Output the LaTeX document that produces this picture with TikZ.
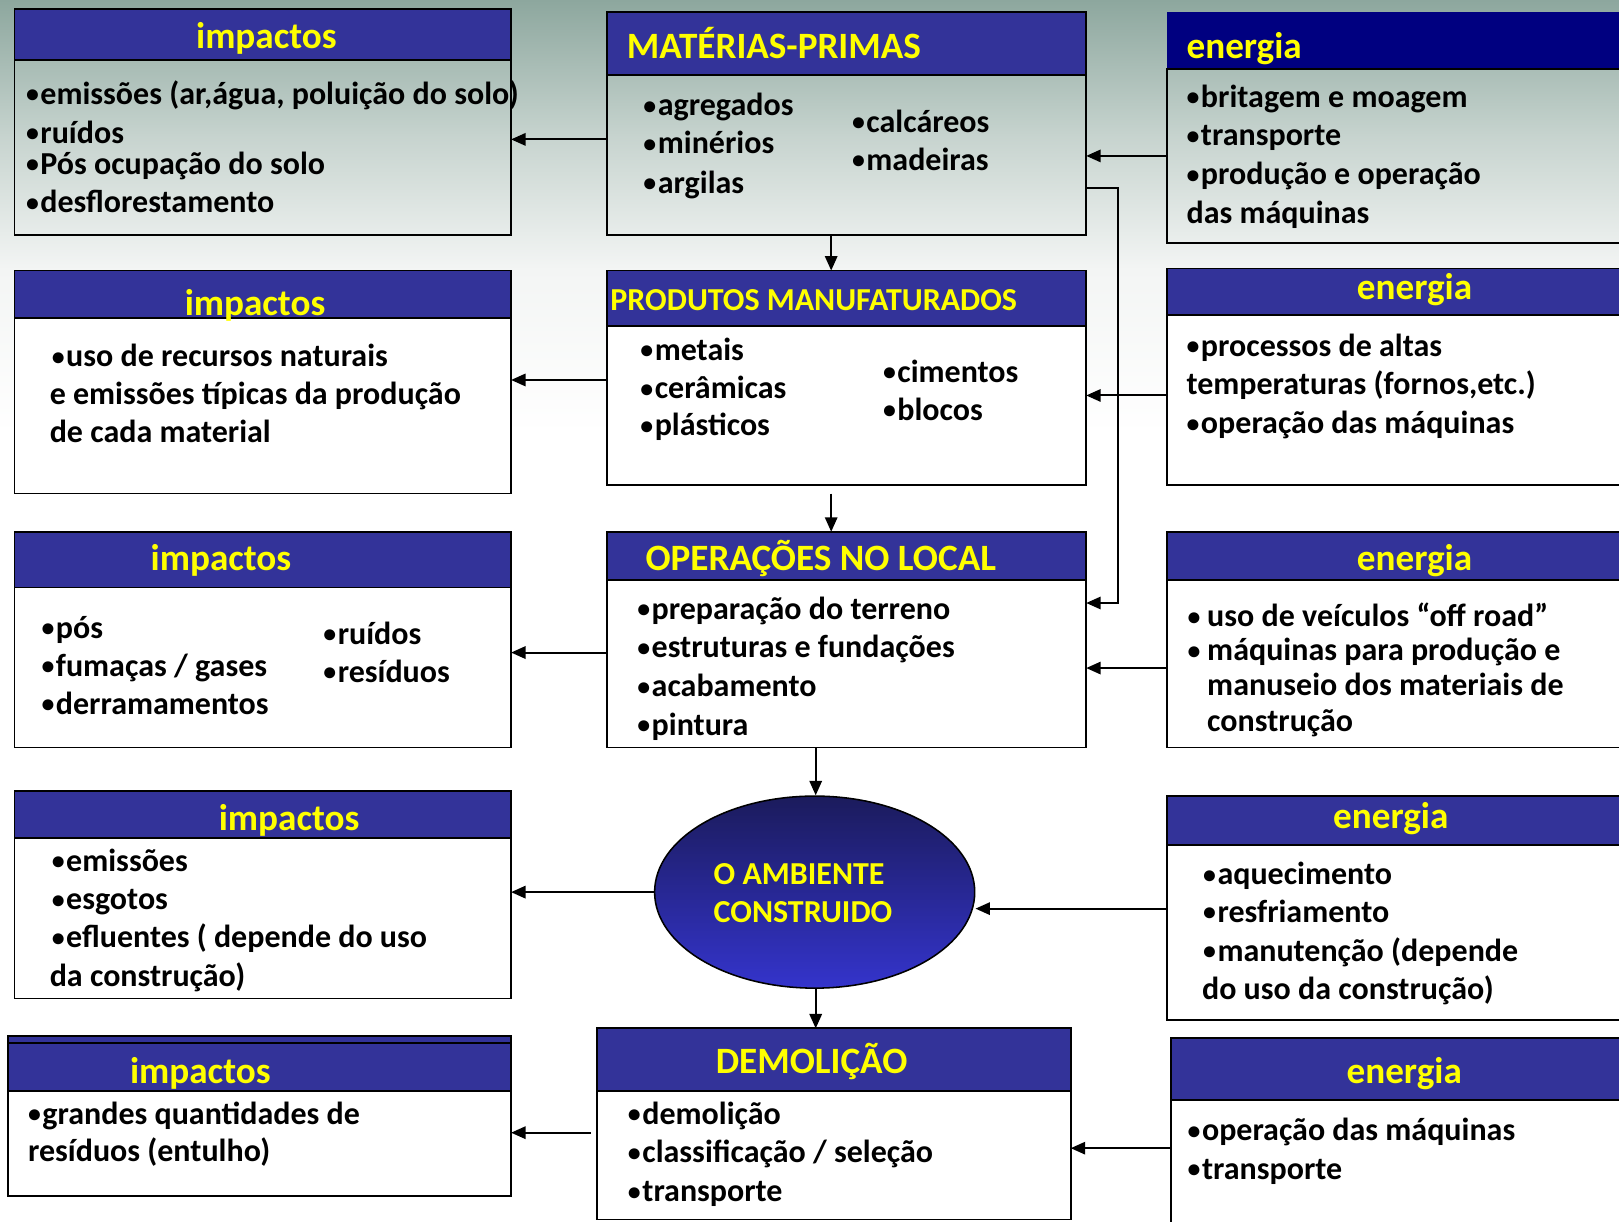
\documentclass[tikz,border=0pt]{standalone}
\usepackage{fontspec}
\setmainfont{Carlito}
\usetikzlibrary{shapes.geometric,arrows.meta}
\definecolor{hdr}{HTML}{333399}
\definecolor{navyh}{HTML}{000080}
\definecolor{yel}{HTML}{FFFF00}
\definecolor{bgtop}{HTML}{8DA79E}
\definecolor{bgmid}{HTML}{C6D3CE}
\definecolor{bglow}{HTML}{F3F5F4}
\definecolor{elltop}{HTML}{1B1B5C}
\definecolor{ellbot}{HTML}{3434CC}
\newcommand\bx[7]{%
  \node[boxb,minimum width=#4pt,minimum height=#6pt,#7] (#1b) at (#2,-#3-#5) {};
  \node[boxh,minimum width=#4pt,minimum height=#5pt] (#1h) at (#2,-#3) {};}
\newcommand\bu{\raisebox{1.5pt}{\fontsize{25}{25}\selectfont•}\kern1.5pt}
\begin{document}
\begin{tikzpicture}[x=1pt,y=1pt,
  boxb/.style={draw=black,line width=1.8pt,anchor=north west,inner sep=0,outer sep=0},
  boxh/.style={draw=black,fill=hdr,line width=1.8pt,anchor=north west,inner sep=0,outer sep=0},
  arr/.style={-{Triangle[length=14pt,width=12pt]},line width=1.9pt},
  txt/.style={font=\fontsize{31}{36}\selectfont\bfseries,inner sep=0,anchor=base west},
  ttlc/.style={font=\fontsize{36}{36}\selectfont\bfseries,text=yel,inner sep=0,anchor=base},
  ttll/.style={font=\fontsize{36}{36}\selectfont\bfseries,text=yel,inner sep=0,anchor=base west},
  elltxt/.style={font=\fontsize{31}{34}\selectfont\bfseries,text=yel,inner sep=0,anchor=base west}]
\useasboundingbox (0,0) rectangle (1568,-1183);
\clip (0,0) rectangle (1568,-1183);
\fill[white] (0,0) rectangle (1568,-1183);
\shade[top color=bgtop,bottom color=bgmid] (0,0) rectangle (1568,-130.5);
\shade[top color=bgmid,bottom color=bglow] (0,-130) rectangle (1568,-260.5);
\shade[top color=bglow,bottom color=white] (0,-260) rectangle (1568,-420);

% boxes: name, x, ytop, width, header h, body h, body fill
\bx{i1}{14}{9}{481}{49}{170}{}
\bx{i2}{14}{262}{481}{46}{170}{fill=white}
\bx{i3}{14}{515}{481}{54}{155}{fill=white}
\bx{i4}{14}{766}{481}{46}{155}{fill=white}
\bx{i5}{8}{1003}{487}{54}{101}{fill=white}
\draw[line width=1.8pt] (i5h.north west) ++(0,-7) -- ++(487,0);
\bx{mp}{588}{12}{464}{61}{155}{}
\bx{pm}{588}{262}{464}{54}{154}{fill=white}
\bx{ol}{588}{515}{464}{47}{162}{fill=white}
\bx{dm}{578}{996}{459}{61}{124}{fill=white}
\node[boxb,minimum width=480pt,minimum height=168pt] (e1b) at (1130,-67) {};
\node[anchor=north west,inner sep=0,outer sep=0,fill=navyh,minimum width=480pt,minimum height=54pt] (e1h) at (1130,-12) {};
\bx{e2}{1130}{260}{480}{45}{165}{fill=white}
\bx{e3}{1130}{515}{480}{47}{162}{fill=white}
\bx{e4}{1130}{771}{480}{47}{170}{fill=white}
\bx{e5}{1134}{1005}{480}{60}{200}{fill=white}

% ellipse
\node[ellipse,draw=black,line width=1.5pt,minimum width=310pt,minimum height=186pt,inner sep=0,
  top color=elltop,bottom color=ellbot] (amb) at (789,-864) {};
\node[elltxt] (amb1) at (691,-857) {O AMBIENTE};
\node[elltxt] (amb2) at (691,-893) {CONSTRUIDO};

% titles
\node[ttlc] (i1t) at (258,-47) {impactos};
\node[ttlc] (i2t) at (247,-306) {impactos};
\node[ttlc] (i3t) at (214,-553) {impactos};
\node[ttlc] (i4t) at (280,-804) {impactos};
\node[ttlc] (i5t) at (194,-1049) {impactos};
\node[ttll] (mpt) at (607,-57) {MATÉRIAS-PRIMAS};
\node[ttll,font=\fontsize{31}{31}\selectfont\bfseries] (pmt) at (591,-301) {PRODUTOS MANUFATURADOS};
\node[ttll] (olt) at (625,-553) {OPERAÇÕES NO LOCAL};
\node[ttlc] (dmt) at (786,-1040) {DEMOLIÇÃO};
\node[ttll] (e1t) at (1149,-57) {energia};
\node[ttlc] (e2t) at (1370,-290) {energia};
\node[ttlc] (e3t) at (1370,-553) {energia};
\node[ttlc] (e4t) at (1347,-802) {energia};
\node[ttlc] (e5t) at (1360,-1049) {energia};

% body texts
\node[txt] (t11) at (25,-101) {\bu emissões (ar,água, poluição do solo)};
\node[txt] (t12) at (25,-139) {\bu ruídos};
\node[txt] (t13) at (25,-169) {\bu Pós ocupação do solo};
\node[txt] (t14) at (25,-206) {\bu desflorestamento};

\node[txt] (t21) at (50,-355) {\bu uso de recursos naturais};
\node[txt] (t22) at (48,-392) {e emissões típicas da produção};
\node[txt] (t23) at (48,-429) {de cada material};

\node[txt] (t31) at (40,-618) {\bu pós};
\node[txt] (t32) at (40,-655) {\bu fumaças / gases};
\node[txt] (t33) at (40,-692) {\bu derramamentos};
\node[txt] (t34) at (313,-624) {\bu ruídos};
\node[txt] (t35) at (313,-661) {\bu resíduos};

\node[txt] (t41) at (50,-844) {\bu emissões};
\node[txt] (t42) at (50,-881) {\bu esgotos};
\node[txt] (t43) at (50,-918) {\bu efluentes ( depende do uso};
\node[txt] (t44) at (48,-955) {da construção)};

\node[txt] (t51) at (27,-1089) {\bu grandes quantidades de};
\node[txt] (t52) at (27,-1125) {resíduos (entulho)};

\node[txt] (tm1) at (623,-112) {\bu agregados};
\node[txt] (tm2) at (623,-149) {\bu minérios};
\node[txt] (tm3) at (623,-187) {\bu argilas};
\node[txt] (tm4) at (825,-128) {\bu calcáreos};
\node[txt] (tm5) at (825,-165) {\bu madeiras};

\node[txt] (tp1) at (620,-349) {\bu metais};
\node[txt] (tp2) at (620,-386) {\bu cerâmicas};
\node[txt] (tp3) at (620,-422) {\bu plásticos};
\node[txt] (tp4) at (855,-370) {\bu cimentos};
\node[txt] (tp5) at (855,-407) {\bu blocos};

\node[txt] (to1) at (617,-600) {\bu preparação do terreno};
\node[txt] (to2) at (617,-637) {\bu estruturas e fundações};
\node[txt] (to3) at (617,-675) {\bu acabamento};
\node[txt] (to4) at (617,-712) {\bu pintura};

\node[txt] (td1) at (608,-1089) {\bu demolição};
\node[txt] (td2) at (608,-1126) {\bu classificação / seleção};
\node[txt] (td3) at (608,-1164) {\bu transporte};

\node[txt] (te11) at (1149,-104) {\bu britagem e moagem};
\node[txt] (te12) at (1149,-141) {\bu transporte};
\node[txt] (te13) at (1149,-179) {\bu produção e operação};
\node[txt] (te14) at (1149,-216) {das máquinas};

\node[txt] (te21) at (1149,-345) {\bu processos de altas};
\node[txt] (te22) at (1149,-382) {temperaturas (fornos,etc.)};
\node[txt] (te23) at (1149,-420) {\bu operação das máquinas};

\node[txt] (te31) at (1150,-607) {\bu};
\node[txt] (te32) at (1169,-607) {uso de veículos “off road”};
\node[txt] (te33) at (1150,-640) {\bu};
\node[txt] (te34) at (1169,-640) {máquinas para produção e};
\node[txt] (te35) at (1169,-674) {manuseio dos materiais de};
\node[txt] (te36) at (1169,-708) {construção};

\node[txt] (te41) at (1165,-857) {\bu aquecimento};
\node[txt] (te42) at (1165,-893) {\bu resfriamento};
\node[txt] (te43) at (1165,-931) {\bu manutenção (depende};
\node[txt] (te44) at (1164,-968) {do uso da construção)};

\node[txt] (te51) at (1150,-1105) {\bu operação das máquinas};
\node[txt] (te52) at (1150,-1142) {\bu transporte};

% connector levels
\coordinate (y1) at (0,-135);
\coordinate (y2) at (0,-151);
\coordinate (y3) at (0,-182);
\coordinate (y3b) at (0,-584);
\coordinate (xr) at (1083,0);
\coordinate (y5) at (0,-368);
\coordinate (y6) at (0,-383);
\coordinate (y8) at (0,-632);
\coordinate (y9) at (0,-647);
\coordinate (y12) at (0,-880);
\coordinate (y14) at (0,-1097);
\coordinate (y15) at (0,-1112);
\coordinate (xc1) at (805,0);
\coordinate (xc2) at (790,0);

\draw[arr] (mpb.west |- y1) -- (i1b.east |- y1);
\draw[arr] (e1b.west |- y2) -- (mpb.east |- y2);
\draw[arr] (mpb.east |- y3) -- (xr |- y3) -- (xr |- y3b) -- (olb.east |- y3b);
\draw[arr] (mpb.south -| xc1) -- (pmh.north -| xc1);
\draw[arr] (pmb.west |- y5) -- (i2b.east |- y5);
\draw[arr] (e2b.west |- y6) -- (pmb.east |- y6);
\draw[arr] (pmb.south -| xc1) ++(0,-8) -- (olh.north -| xc1);
\draw[arr] (olb.west |- y8) -- (i3b.east |- y8);
\draw[arr] (e3b.west |- y9) -- (olb.east |- y9);
\draw[arr] (olb.south -| xc2) -- (amb.north -| xc2);
\draw[arr] (amb.west) -- (i4b.east |- amb.west);
\draw[arr] (e4b.west |- y12) -- (amb.east |- y12);
\draw[arr] (amb.south -| xc2) -- (dmh.north -| xc2);
\draw[arr] (dmb.west |- y14) ++(-6,0) -- (i5b.east |- y14);
\draw[arr] (e5b.west |- y15) -- (dmb.east |- y15);
\end{tikzpicture}
\end{document}
